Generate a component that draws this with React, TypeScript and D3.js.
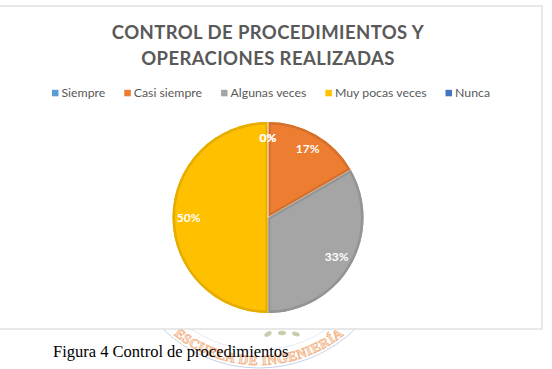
import React, { useEffect, useRef } from "react";
import * as d3 from "d3";

// Survey answers for "Control de procedimientos y operaciones realizadas"
const categories = ["Siempre", "Casi siempre", "Algunas veces", "Muy pocas veces", "Nunca"];
const values = [0, 1, 2, 3, 0];
const colors = ["#5B9BD5", "#ED7D31", "#A5A5A5", "#FFC000", "#4472C4"];
const titleLines = ["CONTROL DE PROCEDIMIENTOS Y", "OPERACIONES REALIZADAS"];
const caption = "Figura 4 Control de procedimientos";
const sealText = "ESCUELA DE INGENIERÍA";

const W = 552;
const H = 369;
const FONT = "Lato, 'Open Sans', sans-serif";

export default function App() {
  const ref = useRef<SVGSVGElement | null>(null);

  useEffect(() => {
    const svg = d3.select(ref.current);
    svg.selectAll("*").remove();
    const defs = svg.append("defs");

    // ---- faint seal behind the figure ----
    const seal = svg.append("g").attr("opacity", 0.7);
    const scx = 259, scy = 230;
    seal.append("circle").attr("cx", scx).attr("cy", scy).attr("r", 138)
      .attr("fill", "none").attr("stroke", "#a9c3df").attr("stroke-width", 1);
    seal.append("circle").attr("cx", scx).attr("cy", scy).attr("r", 120)
      .attr("fill", "none").attr("stroke", "#c9d8ea").attr("stroke-width", 0.7);
    const rText = 135;
    const a0 = (205 * Math.PI) / 180, a1 = (-25 * Math.PI) / 180;
    const p0 = [scx + rText * Math.cos(a0), scy - rText * Math.sin(a0)];
    const p1 = [scx + rText * Math.cos(a1), scy - rText * Math.sin(a1)];
    defs.append("path").attr("id", "sealArc")
      .attr("d", `M${p0[0]},${p0[1]} A${rText},${rText} 0 0 0 ${p1[0]},${p1[1]}`);
    seal.append("text")
      .attr("font-family", "'Liberation Serif', serif")
      .attr("font-size", 13.5)
      .attr("font-weight", "bold")
      .attr("fill", "#fbd6b8")
      .attr("stroke", "#ee9a5e")
      .attr("stroke-width", 0.8)
      .attr("letter-spacing", 0.6)
      .append("textPath").attr("href", "#sealArc").attr("startOffset", "50%")
      .attr("text-anchor", "middle").text(sealText);
    const leaves = seal.append("g").attr("fill", "#b5b98a");
    [[268, 334], [282, 333], [296, 334]].forEach(([x, y], i) => {
      leaves.append("ellipse").attr("cx", x).attr("cy", y).attr("rx", 4).attr("ry", 2.2)
        .attr("transform", `rotate(${-30 + i * 25},${x},${y})`);
    });

    // ---- chart frame ----
    svg.append("rect")
      .attr("x", -6).attr("y", 6).attr("width", 548).attr("height", 323)
      .attr("fill", "#ffffff").attr("stroke", "#d9d9d9").attr("stroke-width", 1.2);

    // ---- title ----
    const title = svg.append("text")
      .attr("font-family", FONT).attr("font-weight", "bold")
      .attr("font-size", 18.5).attr("fill", "#595959").attr("text-anchor", "middle")
      .attr("letter-spacing", 0.4);
    titleLines.forEach((line, i) => {
      title.append("tspan").attr("x", 268).attr("y", 39 + i * 26).text(line);
    });

    // ---- legend, laid out from measured text widths ----
    const legend = svg.append("g");
    const items = categories.map((c, i) => {
      const g = legend.append("g");
      g.append("rect").attr("width", 6.5).attr("height", 6.5).attr("y", -7.2)
        .attr("fill", colors[i]);
      const t = g.append("text").attr("x", 9.5).attr("y", 0)
        .attr("font-family", FONT).attr("font-size", 12.3).attr("fill", "#595959")
        .text(c);
      const w = 9.5 + (t.node() as SVGTextElement).getComputedTextLength();
      return { g, w };
    });
    const gap = 19;
    const total = d3.sum(items, (d) => d.w) + gap * (items.length - 1);
    let lx = 271 - total / 2;
    items.forEach(({ g, w }) => {
      g.attr("transform", `translate(${lx},97)`);
      lx += w + gap;
    });

    // ---- pie ----
    const cx = 268, cy = 217.5, r = 95.5;
    const pie = d3.pie<number>().sort(null).value((d) => d)(values);
    const arc = d3.arc<d3.PieArcDatum<number>>().innerRadius(0).outerRadius(r);
    const sum = d3.sum(values);
    const pg = svg.append("g").attr("transform", `translate(${cx},${cy})`);
    pie.forEach((d, i) => {
      if (d.endAngle - d.startAngle <= 0) return;
      const path = arc(d) as string;
      defs.append("clipPath").attr("id", `slice${i}`).append("path").attr("d", path);
      const col = colors[i];
      pg.append("path").attr("d", path).attr("fill", col);
      // inner darker rim on every slice
      pg.append("path").attr("d", path)
        .attr("clip-path", `url(#slice${i})`)
        .attr("fill", "none")
        .attr("stroke", d3.color(col)!.darker(0.3).formatHex())
        .attr("stroke-width", 5);
    });
    // thin light seams between slices
    pie.forEach((d) => {
      const a = d.startAngle;
      pg.append("line")
        .attr("x1", 0).attr("y1", 0)
        .attr("x2", r * Math.sin(a)).attr("y2", -r * Math.cos(a))
        .attr("stroke", "#ffffff").attr("stroke-opacity", 0.45).attr("stroke-width", 0.8);
    });

    // data labels
    pie.forEach((d) => {
      const mid = (d.startAngle + d.endAngle) / 2;
      const k = 0.83 * r;
      pg.append("text")
        .attr("x", k * Math.sin(mid)).attr("y", -k * Math.cos(mid))
        .attr("dy", "0.35em")
        .attr("text-anchor", "middle")
        .attr("font-family", FONT).attr("font-weight", "bold").attr("font-size", 12)
        .attr("fill", "#ffffff")
        .text(`${Math.round((d.data / sum) * 100)}%`);
    });

    // ---- caption ----
    svg.append("text")
      .attr("x", 53).attr("y", 357)
      .attr("font-family", "'Liberation Serif', 'Times New Roman', serif")
      .attr("font-size", 16.5).attr("fill", "#000000")
      .text(caption);
  }, []);

  return (
    <svg
      ref={ref}
      width={W}
      height={H}
      style={{ position: "absolute", left: 0, top: 0, background: "#ffffff" }}
    />
  );
}
